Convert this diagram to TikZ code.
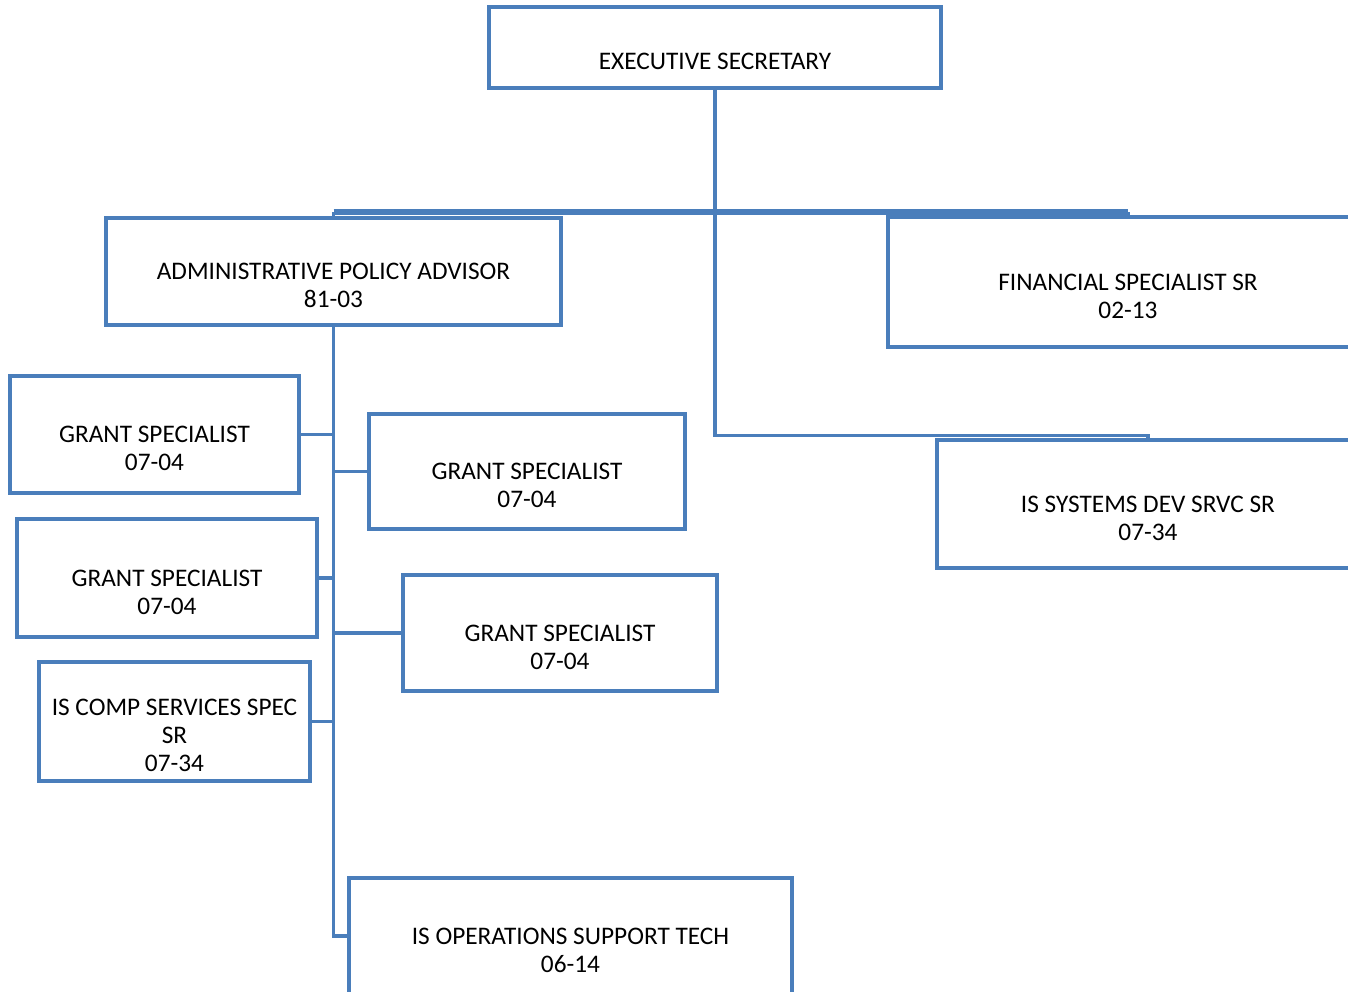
\documentclass[tikz,border=0pt]{standalone}
\usepackage{fontspec}
\setmainfont{Carlito}
\definecolor{obl}{HTML}{4A7EBB}
\tikzset{
  box/.style={draw=obl, line width=3.5pt, rectangle, inner sep=0pt},
  lbl/.style={align=center, inner sep=0pt, font=\fontsize{25.3}{28}\selectfont, text=black},
  conn/.style={draw=obl, line width=3.5pt},
  bus/.style={draw=obl, line width=5.5pt},
}
\begin{document}
\begin{tikzpicture}[x=1pt,y=-1pt]
\useasboundingbox (0,0) rectangle (1348,992);
\clip (0,0) rectangle (1348,992);
% boxes
\node[box, minimum width=452pt, minimum height=81pt] (exec) at (715,47.5) {};
\node[box, minimum width=455pt, minimum height=107pt] (admin) at (333.5,271.5) {};
\node[box, minimum width=480pt, minimum height=130pt] (fin) at (1128,282) {};
\node[box, minimum width=422pt, minimum height=128pt] (issys) at (1148,504) {};
\node[box, minimum width=289pt, minimum height=117pt] (gs1) at (154.5,434.5) {};
\node[box, minimum width=316pt, minimum height=115pt] (gs2) at (527,471.5) {};
\node[box, minimum width=300pt, minimum height=118pt] (gs3) at (167,578) {};
\node[box, minimum width=314pt, minimum height=116pt] (gs4) at (560,633) {};
\node[box, minimum width=271pt, minimum height=119pt] (iscomp) at (174.5,721.5) {};
\node[box, minimum width=443pt, minimum height=116pt] (isops) at (570.5,936) {};
% labels
\node[lbl] (t-exec) at ([yshift=-14pt]exec.center) {EXECUTIVE SECRETARY};
\node[lbl] (t-admin) at ([yshift=-14pt]admin.center) {ADMINISTRATIVE POLICY ADVISOR\\81-03};
\node[lbl] (t-fin) at ([yshift=-14pt]fin.center) {FINANCIAL SPECIALIST SR\\02-13};
\node[lbl] (t-issys) at ([yshift=-14pt]issys.center) {IS SYSTEMS DEV SRVC SR\\07-34};
\node[lbl] (t-gs1) at ([yshift=-14pt]gs1.center) {GRANT SPECIALIST\\07-04};
\node[lbl] (t-gs2) at ([yshift=-14pt]gs2.center) {GRANT SPECIALIST\\07-04};
\node[lbl] (t-gs3) at ([yshift=-14pt]gs3.center) {GRANT SPECIALIST\\07-04};
\node[lbl] (t-gs4) at ([yshift=-14pt]gs4.center) {GRANT SPECIALIST\\07-04};
\node[lbl] (t-iscomp) at ([yshift=-14pt]iscomp.center) {IS COMP SERVICES SPEC\\SR\\07-34};
\node[lbl] (t-isops) at ([yshift=-14pt]isops.center) {IS OPERATIONS SUPPORT TECH\\06-14};
% connectors
\coordinate (busL) at ([yshift=4pt]admin.north);
\draw[conn] (admin.north) -- (busL);
\draw[conn] (fin.north) -- (fin.north |- busL);
\draw[bus] (busL) -- (fin.north |- busL);
\draw[conn] (exec.south) -- (exec.south |- busL);
\draw[conn] (exec.south) |- ([yshift=3pt]issys.north) -- (issys.north);
\draw[conn] (admin.south) |- (isops.west);
\draw[conn] (gs1.east) -- (gs1.east -| admin.south);
\draw[conn] (gs2.west) -- (gs2.west -| admin.south);
\draw[conn] (gs3.east) -- (gs3.east -| admin.south);
\draw[conn] (gs4.west) -- (gs4.west -| admin.south);
\draw[conn] (iscomp.east) -- (iscomp.east -| admin.south);
\end{tikzpicture}
\end{document}
